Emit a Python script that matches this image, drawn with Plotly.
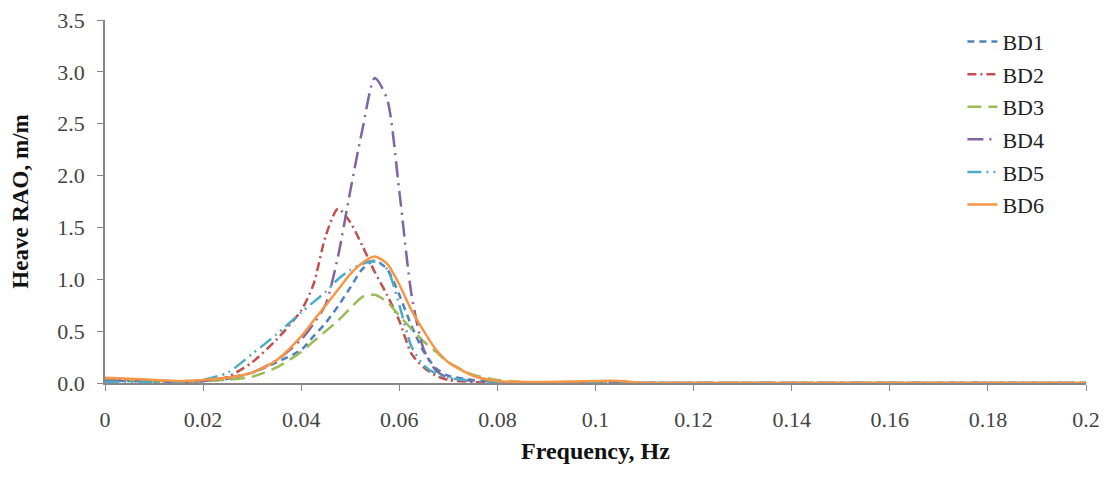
import plotly.graph_objects as go

freq = [0, 0.005, 0.01, 0.015, 0.02, 0.025, 0.03, 0.035, 0.04, 0.0425, 0.045, 0.0475,
        0.05, 0.0525, 0.055, 0.0575, 0.06, 0.0625, 0.065, 0.0675, 0.07, 0.075, 0.08,
        0.085, 0.09, 0.1, 0.105, 0.11, 0.12, 0.14, 0.16, 0.18, 0.2]

bd1 = [0.02, 0.02, 0.01, 0.01, 0.02, 0.04, 0.10, 0.20, 0.32, 0.45, 0.58, 0.74,
       0.92, 1.10, 1.18, 1.10, 0.85, 0.55, 0.30, 0.14, 0.07, 0.03, 0.01,
       0.0, 0.0, 0.0, 0.0, 0.0, 0.0, 0.0, 0.0, 0.0, 0.0]
bd2 = [0.03, 0.03, 0.02, 0.01, 0.02, 0.06, 0.20, 0.42, 0.70, 0.95, 1.42, 1.68,
       1.55, 1.32, 1.07, 0.85, 0.60, 0.28, 0.15, 0.07, 0.03, 0.01, 0.0,
       0.0, 0.0, 0.0, 0.0, 0.0, 0.0, 0.0, 0.0, 0.0, 0.0]
bd3 = [0.03, 0.03, 0.02, 0.01, 0.02, 0.03, 0.06, 0.15, 0.30, 0.40, 0.50, 0.60,
       0.72, 0.83, 0.85, 0.78, 0.65, 0.52, 0.40, 0.30, 0.20, 0.08, 0.03,
       0.01, 0.0, 0.0, 0.0, 0.0, 0.0, 0.0, 0.0, 0.0, 0.0]
bd4 = [0.02, 0.02, 0.01, 0.01, 0.02, 0.05, 0.10, 0.22, 0.42, 0.57, 0.76, 1.22,
       1.85, 2.45, 2.94, 2.74, 1.85, 0.85, 0.32, 0.12, 0.05, 0.02, 0.01,
       0.0, 0.0, 0.0, 0.0, 0.0, 0.0, 0.0, 0.0, 0.0, 0.0]
bd5 = [0.01, 0.01, 0.01, 0.01, 0.03, 0.10, 0.28, 0.47, 0.68, 0.78, 0.88, 1.00,
       1.09, 1.15, 1.17, 1.10, 0.75, 0.35, 0.17, 0.09, 0.05, 0.02, 0.01,
       0.0, 0.0, 0.0, 0.0, 0.0, 0.0, 0.0, 0.0, 0.0, 0.0]
bd6 = [0.05, 0.04, 0.03, 0.02, 0.03, 0.05, 0.10, 0.22, 0.45, 0.60, 0.75, 0.90,
       1.05, 1.16, 1.22, 1.15, 0.95, 0.70, 0.50, 0.32, 0.20, 0.07, 0.02,
       0.01, 0.01, 0.02, 0.02, 0.0, 0.0, 0.0, 0.0, 0.0, 0.0]

names = ["BD1", "BD2", "BD3", "BD4", "BD5", "BD6"]
series = [bd1, bd2, bd3, bd4, bd5, bd6]
colors = ["#4F81BD", "#C0504D", "#9BBB59", "#8064A2", "#4BACC6", "#F79646"]
dashes = ["7px,5px", "9px,4px,2px,4px", "14px,7px", "16px,6px,2px,6px",
          "14px,5px,2px,5px,2px,5px", "solid"]

fig = go.Figure()
for n, y, c, d in zip(names, series, colors, dashes):
    fig.add_trace(go.Scatter(
        x=freq, y=y, name=n, mode="lines", legendgroup=n,
        line=dict(color=c, width=2.5, dash=d, shape="spline", smoothing=0.7),
    ))

serif = "Liberation Serif, Times New Roman, serif"
fig.update_layout(
    width=1104, height=465,
    margin=dict(l=97, r=26, t=12, b=90, autoexpand=False),
    paper_bgcolor="white", plot_bgcolor="white",
    font=dict(family=serif, size=22, color="#404040"),
    showlegend=True,
    legend=dict(x=0.874, y=0.998, xanchor="left", yanchor="top",
                font=dict(family=serif, size=22, color="#222"),
                tracegroupgap=1, bgcolor="rgba(0,0,0,0)"),
    xaxis=dict(range=[0, 0.2], dtick=0.02, tick0=0, showgrid=False, zeroline=False,
               showline=True, linecolor="#888", linewidth=1.5, automargin=False,
               ticks="outside", ticklen=6, tickcolor="#888", ticklabelstandoff=10,
               ticklabeloverflow="allow",
               tickfont=dict(family=serif, size=22, color="#444"),
               title=dict(text="<b>Frequency, Hz</b>", standoff=11,
                          font=dict(family=serif, size=24, color="#111"))),
    yaxis=dict(range=[0, 3.5], dtick=0.5, tickformat=".1f", showgrid=False, zeroline=False,
               showline=True, linecolor="#888", linewidth=1.5,
               ticks="outside", ticklen=6, tickcolor="#888", ticklabelstandoff=8,
               ticklabeloverflow="allow",
               tickfont=dict(family=serif, size=22, color="#444"),
               title=dict(text="<b>Heave RAO, m/m</b>", standoff=22,
                          font=dict(family=serif, size=23, color="#111"))),
)

fig.write_html("out.html")
